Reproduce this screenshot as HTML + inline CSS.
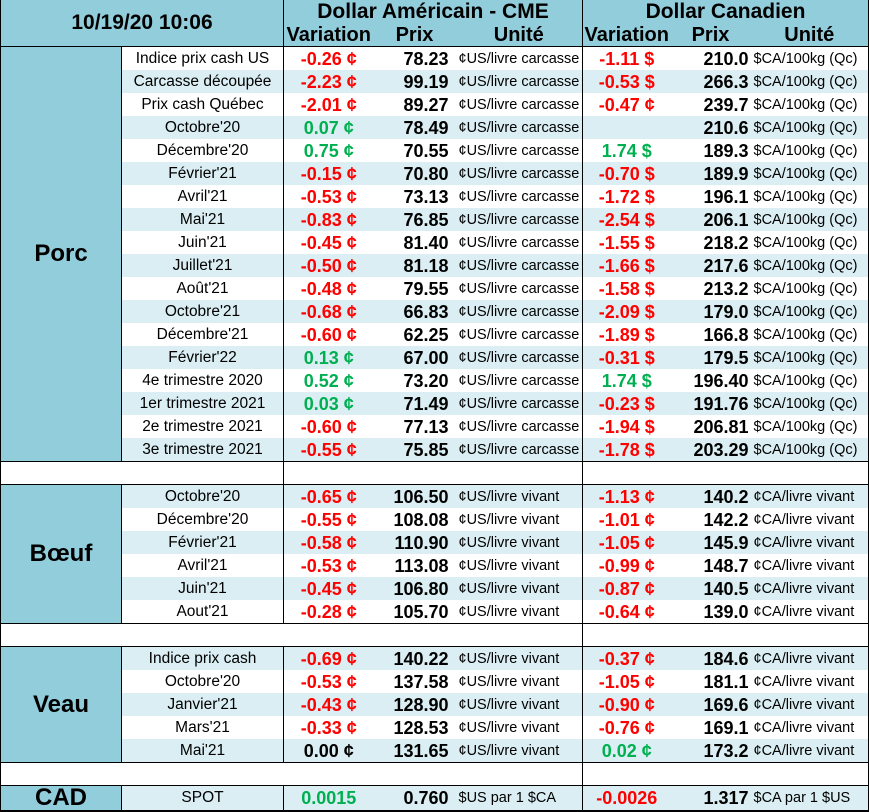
<!DOCTYPE html>
<html><head><meta charset="utf-8"><style>
body{margin:0;background:#fff;font-family:"Liberation Sans",Arial,sans-serif;}
table{border-collapse:collapse;table-layout:fixed;position:absolute;left:0;top:0;}
td{height:23px;padding:0;white-space:nowrap;overflow:hidden;color:#000;line-height:22px;}
.h{background:#92CDDC;font-weight:bold;text-align:center;font-size:20px;}
.cat{background:#92CDDC;font-weight:bold;font-size:24px;text-align:center;border-right:1px solid #000;border-left:1px solid #000;}
.n{font-size:15.5px;text-align:center;}
.v{font-size:18px;font-weight:bold;text-align:center;border-left:1px solid #000;}
.p{font-size:18px;font-weight:bold;text-align:right;padding-right:7px;}
.p2{padding-right:2px;}
.u{font-size:14.5px;text-align:left;padding-left:3px;}
.ue{border-right:1px solid #000;}
.r{color:#FF0000}.g{color:#00B050}
.L td{background:#DAEEF3}
.L td.cat{background:#92CDDC}
.W td{background:#fff}
.W td.cat{background:#92CDDC}
.bt td{border-top:1px solid #000}
.blank td{height:22px;background:#fff;border-top:1px solid #000;}
</style></head><body>
<table>
<colgroup><col style="width:121px"><col style="width:162px"><col style="width:90px"><col style="width:82px"><col style="width:127px"><col style="width:88px"><col style="width:80px"><col style="width:118px"></colgroup>
<tr><td class="h" colspan="2" rowspan="2" style="font-size:21px;border-left:1px solid #000;vertical-align:middle;line-height:24px;height:45px">10/19/20 10:06</td><td class="h" colspan="3" style="font-size:21px;border-left:1px solid #000;height:22px">Dollar Américain - CME</td><td class="h" colspan="3" style="font-size:21px;border-left:1px solid #000;border-right:1px solid #000">Dollar Canadien</td></tr>
<tr><td class="h" style="border-left:1px solid #000;height:23px">Variation</td><td class="h">Prix</td><td class="h">Unité</td><td class="h" style="border-left:1px solid #000">Variation</td><td class="h">Prix</td><td class="h ue">Unité</td></tr>

<tr class="W bt"><td class="cat" rowspan="18">Porc</td><td class="n">Indice prix cash US</td><td class="v r">-0.26 ¢</td><td class="p">78.23</td><td class="u">¢US/livre carcasse</td><td class="v r">-1.11 $</td><td class="p p2">210.0</td><td class="u ue">$CA/100kg (Qc)</td></tr>
<tr class="L"><td class="n">Carcasse découpée</td><td class="v r">-2.23 ¢</td><td class="p">99.19</td><td class="u">¢US/livre carcasse</td><td class="v r">-0.53 $</td><td class="p p2">266.3</td><td class="u ue">$CA/100kg (Qc)</td></tr>
<tr class="W"><td class="n">Prix cash Québec</td><td class="v r">-2.01 ¢</td><td class="p">89.27</td><td class="u">¢US/livre carcasse</td><td class="v r">-0.47 ¢</td><td class="p p2">239.7</td><td class="u ue">$CA/100kg (Qc)</td></tr>
<tr class="L"><td class="n">Octobre'20</td><td class="v g">0.07 ¢</td><td class="p">78.49</td><td class="u">¢US/livre carcasse</td><td class="v"></td><td class="p p2">210.6</td><td class="u ue">$CA/100kg (Qc)</td></tr>
<tr class="W"><td class="n">Décembre'20</td><td class="v g">0.75 ¢</td><td class="p">70.55</td><td class="u">¢US/livre carcasse</td><td class="v g">1.74 $</td><td class="p p2">189.3</td><td class="u ue">$CA/100kg (Qc)</td></tr>
<tr class="L"><td class="n">Février'21</td><td class="v r">-0.15 ¢</td><td class="p">70.80</td><td class="u">¢US/livre carcasse</td><td class="v r">-0.70 $</td><td class="p p2">189.9</td><td class="u ue">$CA/100kg (Qc)</td></tr>
<tr class="W"><td class="n">Avril'21</td><td class="v r">-0.53 ¢</td><td class="p">73.13</td><td class="u">¢US/livre carcasse</td><td class="v r">-1.72 $</td><td class="p p2">196.1</td><td class="u ue">$CA/100kg (Qc)</td></tr>
<tr class="L"><td class="n">Mai'21</td><td class="v r">-0.83 ¢</td><td class="p">76.85</td><td class="u">¢US/livre carcasse</td><td class="v r">-2.54 $</td><td class="p p2">206.1</td><td class="u ue">$CA/100kg (Qc)</td></tr>
<tr class="W"><td class="n">Juin'21</td><td class="v r">-0.45 ¢</td><td class="p">81.40</td><td class="u">¢US/livre carcasse</td><td class="v r">-1.55 $</td><td class="p p2">218.2</td><td class="u ue">$CA/100kg (Qc)</td></tr>
<tr class="L"><td class="n">Juillet'21</td><td class="v r">-0.50 ¢</td><td class="p">81.18</td><td class="u">¢US/livre carcasse</td><td class="v r">-1.66 $</td><td class="p p2">217.6</td><td class="u ue">$CA/100kg (Qc)</td></tr>
<tr class="W"><td class="n">Août'21</td><td class="v r">-0.48 ¢</td><td class="p">79.55</td><td class="u">¢US/livre carcasse</td><td class="v r">-1.58 $</td><td class="p p2">213.2</td><td class="u ue">$CA/100kg (Qc)</td></tr>
<tr class="L"><td class="n">Octobre'21</td><td class="v r">-0.68 ¢</td><td class="p">66.83</td><td class="u">¢US/livre carcasse</td><td class="v r">-2.09 $</td><td class="p p2">179.0</td><td class="u ue">$CA/100kg (Qc)</td></tr>
<tr class="W"><td class="n">Décembre'21</td><td class="v r">-0.60 ¢</td><td class="p">62.25</td><td class="u">¢US/livre carcasse</td><td class="v r">-1.89 $</td><td class="p p2">166.8</td><td class="u ue">$CA/100kg (Qc)</td></tr>
<tr class="L"><td class="n">Février'22</td><td class="v g">0.13 ¢</td><td class="p">67.00</td><td class="u">¢US/livre carcasse</td><td class="v r">-0.31 $</td><td class="p p2">179.5</td><td class="u ue">$CA/100kg (Qc)</td></tr>
<tr class="W"><td class="n">4e trimestre 2020</td><td class="v g">0.52 ¢</td><td class="p">73.20</td><td class="u">¢US/livre carcasse</td><td class="v g">1.74 $</td><td class="p p2">196.40</td><td class="u ue">$CA/100kg (Qc)</td></tr>
<tr class="L"><td class="n">1er trimestre 2021</td><td class="v g">0.03 ¢</td><td class="p">71.49</td><td class="u">¢US/livre carcasse</td><td class="v r">-0.23 $</td><td class="p p2">191.76</td><td class="u ue">$CA/100kg (Qc)</td></tr>
<tr class="W"><td class="n">2e trimestre 2021</td><td class="v r">-0.60 ¢</td><td class="p">77.13</td><td class="u">¢US/livre carcasse</td><td class="v r">-1.94 $</td><td class="p p2">206.81</td><td class="u ue">$CA/100kg (Qc)</td></tr>
<tr class="L"><td class="n">3e trimestre 2021</td><td class="v r">-0.55 ¢</td><td class="p">75.85</td><td class="u">¢US/livre carcasse</td><td class="v r">-1.78 $</td><td class="p p2">203.29</td><td class="u ue">$CA/100kg (Qc)</td></tr>

<tr class="blank"><td colspan="2" style="border-left:1px solid #000"></td><td colspan="3" style="border-left:1px solid #000"></td><td colspan="3" style="border-left:1px solid #000;border-right:1px solid #000"></td></tr>

<tr class="L bt"><td class="cat" rowspan="6">Bœuf</td><td class="n">Octobre'20</td><td class="v r">-0.65 ¢</td><td class="p">106.50</td><td class="u">¢US/livre vivant</td><td class="v r">-1.13 ¢</td><td class="p p2">140.2</td><td class="u ue">¢CA/livre vivant</td></tr>
<tr class="W"><td class="n">Décembre'20</td><td class="v r">-0.55 ¢</td><td class="p">108.08</td><td class="u">¢US/livre vivant</td><td class="v r">-1.01 ¢</td><td class="p p2">142.2</td><td class="u ue">¢CA/livre vivant</td></tr>
<tr class="L"><td class="n">Février'21</td><td class="v r">-0.58 ¢</td><td class="p">110.90</td><td class="u">¢US/livre vivant</td><td class="v r">-1.05 ¢</td><td class="p p2">145.9</td><td class="u ue">¢CA/livre vivant</td></tr>
<tr class="W"><td class="n">Avril'21</td><td class="v r">-0.53 ¢</td><td class="p">113.08</td><td class="u">¢US/livre vivant</td><td class="v r">-0.99 ¢</td><td class="p p2">148.7</td><td class="u ue">¢CA/livre vivant</td></tr>
<tr class="L"><td class="n">Juin'21</td><td class="v r">-0.45 ¢</td><td class="p">106.80</td><td class="u">¢US/livre vivant</td><td class="v r">-0.87 ¢</td><td class="p p2">140.5</td><td class="u ue">¢CA/livre vivant</td></tr>
<tr class="W"><td class="n">Aout'21</td><td class="v r">-0.28 ¢</td><td class="p">105.70</td><td class="u">¢US/livre vivant</td><td class="v r">-0.64 ¢</td><td class="p p2">139.0</td><td class="u ue">¢CA/livre vivant</td></tr>

<tr class="blank"><td colspan="5" style="border-left:1px solid #000"></td><td colspan="3" style="border-left:1px solid #000;border-right:1px solid #000"></td></tr>

<tr class="L bt"><td class="cat" rowspan="5">Veau</td><td class="n">Indice prix cash</td><td class="v r">-0.69 ¢</td><td class="p">140.22</td><td class="u">¢US/livre vivant</td><td class="v r">-0.37 ¢</td><td class="p p2">184.6</td><td class="u ue">¢CA/livre vivant</td></tr>
<tr class="W"><td class="n">Octobre'20</td><td class="v r">-0.53 ¢</td><td class="p">137.58</td><td class="u">¢US/livre vivant</td><td class="v r">-1.05 ¢</td><td class="p p2">181.1</td><td class="u ue">¢CA/livre vivant</td></tr>
<tr class="L"><td class="n">Janvier'21</td><td class="v r">-0.43 ¢</td><td class="p">128.90</td><td class="u">¢US/livre vivant</td><td class="v r">-0.90 ¢</td><td class="p p2">169.6</td><td class="u ue">¢CA/livre vivant</td></tr>
<tr class="W"><td class="n">Mars'21</td><td class="v r">-0.33 ¢</td><td class="p">128.53</td><td class="u">¢US/livre vivant</td><td class="v r">-0.76 ¢</td><td class="p p2">169.1</td><td class="u ue">¢CA/livre vivant</td></tr>
<tr class="L"><td class="n">Mai'21</td><td class="v">0.00 ¢</td><td class="p">131.65</td><td class="u">¢US/livre vivant</td><td class="v g">0.02 ¢</td><td class="p p2">173.2</td><td class="u ue">¢CA/livre vivant</td></tr>

<tr class="blank"><td colspan="5" style="border-left:1px solid #000"></td><td colspan="3" style="border-left:1px solid #000;border-right:1px solid #000"></td></tr>

<tr class="L bt" style="border-bottom:2px solid #000"><td class="cat" style="height:24px">CAD</td><td class="n">SPOT</td><td class="v g">0.0015</td><td class="p">0.760</td><td class="u">$US par 1 $CA</td><td class="v r">-0.0026</td><td class="p p2">1.317</td><td class="u ue">$CA par 1 $US</td></tr>
</table>
</body></html>
